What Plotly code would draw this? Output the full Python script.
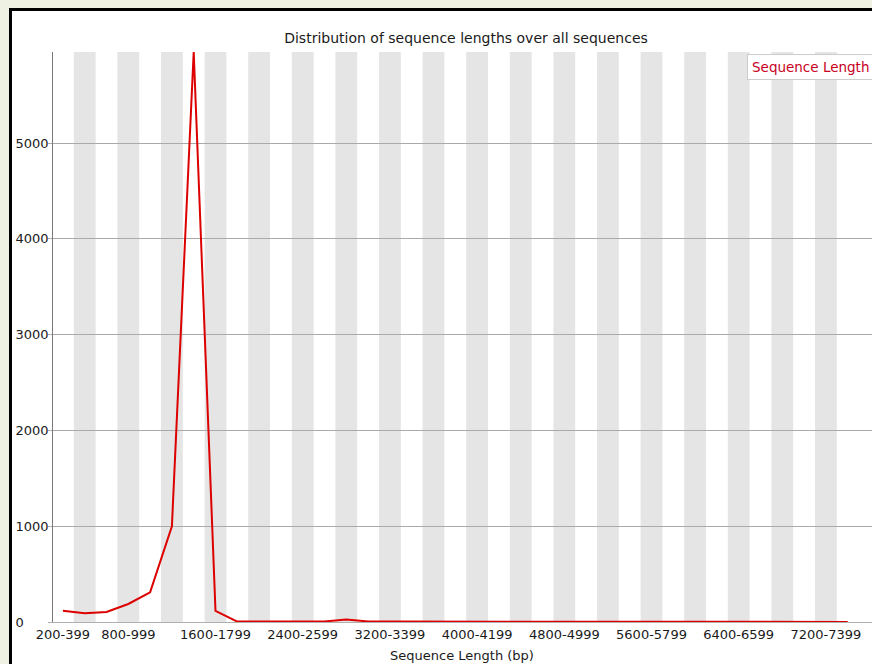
import plotly.graph_objects as go

categories = [f"{s}-{s+199}" for s in range(200, 7600, 200)]
lengths_count = [118, 91, 104, 188, 310, 1000, 5950, 115,
                 4, 3, 3, 4, 6, 25, 6, 4, 3, 3, 3, 2, 2, 2, 2, 2, 2,
                 2, 2, 2, 1, 1, 1, 1, 1, 1, 1, 1, 1]
tick_labels = ["200-399", "800-999", "1600-1799", "2400-2599", "3200-3399",
               "4000-4199", "4800-4999", "5600-5799", "6400-6599", "7200-7399"]
y_ticks = [0, 1000, 2000, 3000, 4000, 5000]
title_text = "Distribution of sequence lengths over all sequences"
x_title = "Sequence Length (bp)"
series_name = "Sequence Length"

W, H = 872, 664
ML, MT, MB, MR = 12, 52, 42, 0
AX_X = 52
plot_w = W - ML - MR
plot_h = H - MT - MB
dom0 = (AX_X - ML) / plot_w
ymax = max(lengths_count)
FONT = "DejaVu Sans"
BG = "#eff2e2"

fig = go.Figure()
fig.add_trace(go.Scatter(x=categories, y=lengths_count, mode="lines",
                         line=dict(color="#dd0000", width=2),
                         name=series_name, showlegend=False,
                         hoverinfo="x+y"))
fig.add_trace(go.Scatter(x=categories, y=lengths_count, mode="lines",
                         line=dict(width=0), opacity=0, yaxis="y2",
                         showlegend=False, hoverinfo="skip"))

shapes = []
# outer frame
shapes.append(dict(type="rect", xref="paper", yref="paper",
                   xsizemode="pixel", ysizemode="pixel", xanchor=0, yanchor=1,
                   x0=-(ML - 10.5), x1=W + 20, y0=-H, y1=MT - 9.5,
                   fillcolor="white", line=dict(color="black", width=3),
                   layer="below"))
# alternating stripes
for i in range(len(categories)):
    if i % 2 == 1:
        shapes.append(dict(type="rect", xref="x", yref="paper",
                           x0=i - 0.5, x1=i + 0.5, y0=0, y1=1,
                           fillcolor="#e5e5e5", line=dict(width=0),
                           layer="below"))

px_per_cat = 21.8
x_right = -0.5 + (W - MR - AX_X) / px_per_cat

fig.update_layout(
    width=W, height=H,
    margin=dict(l=ML, r=MR, t=MT, b=MB, pad=0),
    paper_bgcolor=BG,
    plot_bgcolor="white",
    font=dict(family=FONT, size=13, color="#1a1a1a"),
    shapes=shapes,
    title=dict(text=title_text, x=(466 - ML) / plot_w, xref="paper",
               xanchor="center", y=1 - 38 / H, yref="container",
               yanchor="middle", font=dict(size=14, color="#1a1a1a")),
    xaxis=dict(domain=[dom0, 1], type="category", categoryorder="array",
               categoryarray=categories, range=[-0.5, x_right],
               tickmode="array", tickvals=tick_labels, ticktext=tick_labels,
               showgrid=False, showline=True, linecolor="#b0b0b0", linewidth=1,
               ticks="", zeroline=False, tickfont=dict(size=13),
               title=dict(text=x_title, standoff=10, font=dict(size=13)),
               automargin=False),
    yaxis=dict(anchor="free", position=dom0, range=[0, ymax],
               tickmode="array", tickvals=y_ticks, showticklabels=False,
               showgrid=True, gridcolor="#aaaaaa", gridwidth=1,
               ticks="outside", ticklen=4, tickcolor="#aaaaaa",
               showline=True, linecolor="#777777", linewidth=1,
               zeroline=False, automargin=False),
    yaxis2=dict(overlaying="y", anchor="free", position=2.5 / plot_w,
                side="right", range=[0, ymax],
                tickmode="array", tickvals=y_ticks,
                ticktext=[str(v) for v in y_ticks],
                ticks="", showgrid=False,
                showline=False, zeroline=False, tickfont=dict(size=13),
                automargin=False),
    annotations=[dict(text=series_name, xref="paper", yref="paper",
                      x=(747 - ML) / plot_w, y=1 - (54 - MT) / plot_h,
                      xanchor="left", yanchor="top", showarrow=False,
                      font=dict(size=13.5, color="#c8001e"),
                      bgcolor="white", bordercolor="#cccccc", borderwidth=1,
                      borderpad=4)],
)

fig.write_html("out.html", config={"displayModeBar": False},
               post_script="document.body.style.margin='0';"
                           "document.body.style.background='" + BG + "';")
